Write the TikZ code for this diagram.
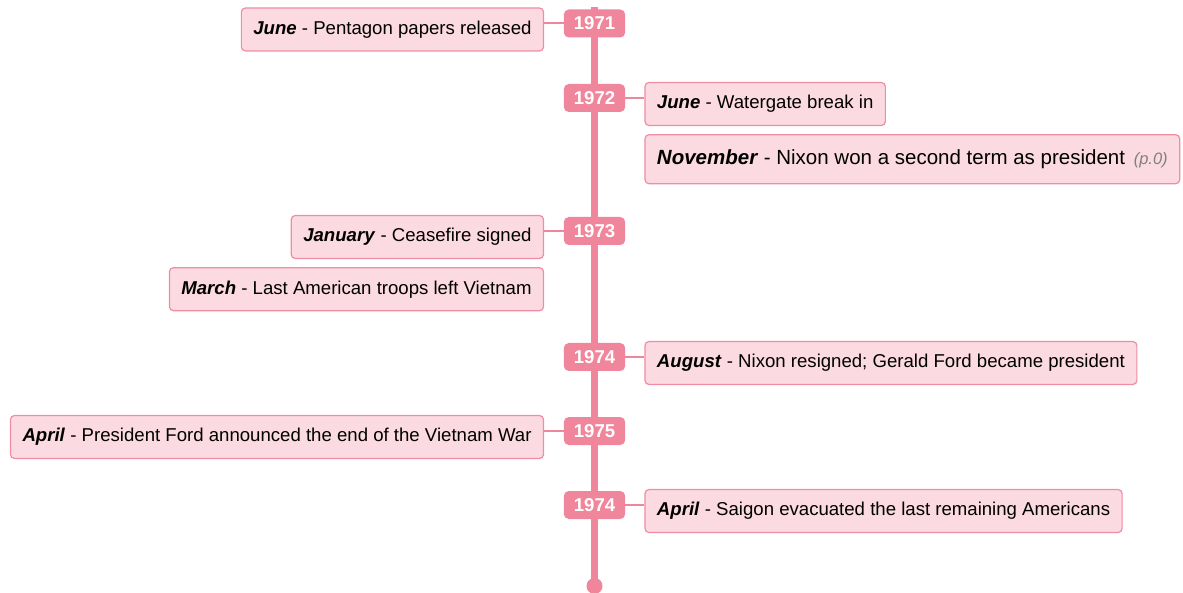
\documentclass[tikz,border=0pt]{standalone}
\usepackage{fontspec}
\setmainfont{Liberation Sans}
\usetikzlibrary{positioning}
\definecolor{rosa}{HTML}{F0869B}
\definecolor{rosachiaro}{HTML}{FBDAE1}
\definecolor{bordo}{HTML}{F08DA2}
\begin{document}
\begin{tikzpicture}[x=1pt, y=-1pt,
    anno/.style={rectangle, rounded corners=5pt, fill=rosa, text=white, font=\fontsize{18.6}{22}\selectfont\bfseries, inner xsep=10pt, inner ysep=0pt, minimum height=28pt},
    evento/.style={rectangle, rounded corners=4pt, draw=bordo, line width=1.2pt, fill=rosachiaro, font=\fontsize{18.6}{22}\selectfont, inner xsep=12pt, inner ysep=0pt, minimum height=43pt},
    ramo/.style={draw=rosa, line width=2pt}]
    \useasboundingbox (0,0) rectangle (1183,593);

    % Asse
    \coordinate (inizio) at (594.5,7);
    \node (fine) at (594.5,586) [circle, fill=rosa, minimum size=16pt, inner sep=0pt] {};
    \draw[rosa, line width=7pt] (inizio) -- (fine.center);

    % Anni
    \node (a71) at (594.5,23.5) [anno] {1971};
    \node (a72) at (594.5,98) [anno] {1972};
    \node (a73) at (594.5,231) [anno] {1973};
    \node (a74) at (594.5,357) [anno] {1974};
    \node (a75) at (594.5,431) [anno] {1975};
    \node (b74) at (594.5,505) [anno] {1974};

    % Eventi
    \node (giu71) [evento, left=19.5pt of a71, yshift=-6pt] {\textbf{\textit{June}} - Pentagon papers released};
    \node (giu72) [evento, right=19pt of a72, yshift=-6pt] {\textbf{\textit{June}} - Watergate break in};
    \node (nov72) [evento, below=8pt of giu72.south west, anchor=north west, minimum height=49pt, font=\fontsize{20.5}{24}\selectfont]
        {\textbf{\textit{November}} - Nixon won a second term as president\hspace{3pt} {\fontsize{16.5}{18}\selectfont\color{gray}\textit{(p.0)}}};
    \node (gen73) [evento, left=19.5pt of a73, yshift=-6pt] {\textbf{\textit{January}} - Ceasefire signed};
    \node (mar73) [evento, below=8pt of gen73.south east, anchor=north east] {\textbf{\textit{March}} - Last American troops left Vietnam};
    \node (ago74) [evento, right=19pt of a74, yshift=-6pt] {\textbf{\textit{August}} - Nixon resigned; Gerald Ford became president};
    \node (apr75) [evento, left=19.5pt of a75, yshift=-6pt] {\textbf{\textit{April}} - President Ford announced the end of the Vietnam War};
    \node (apr74) [evento, right=19pt of b74, yshift=-6pt] {\textbf{\textit{April}} - Saigon evacuated the last remaining Americans};

    % Collegamenti
    \draw[ramo] (a71.west) -- (a71.west -| giu71.east);
    \draw[ramo] (a72.east) -- (a72.east -| giu72.west);
    \draw[ramo] (a73.west) -- (a73.west -| gen73.east);
    \draw[ramo] (a74.east) -- (a74.east -| ago74.west);
    \draw[ramo] (a75.west) -- (a75.west -| apr75.east);
    \draw[ramo] (b74.east) -- (b74.east -| apr74.west);
\end{tikzpicture}
\end{document}
